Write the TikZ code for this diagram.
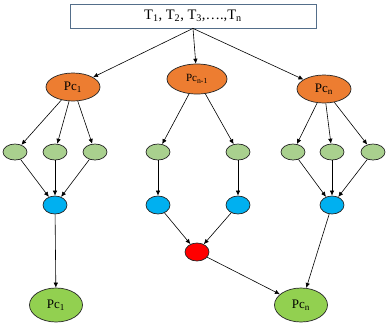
\documentclass[tikz,border=0pt]{standalone}
\usepackage{fontspec}
\setmainfont{Liberation Serif}
\usetikzlibrary{arrows.meta,shapes.geometric}

\definecolor{pcorange}{RGB}{237,125,49}
\definecolor{leafgreen}{RGB}{169,208,142}
\definecolor{joinblue}{RGB}{0,176,240}
\definecolor{mergered}{RGB}{255,0,0}
\definecolor{resgreen}{RGB}{146,208,80}
\definecolor{boxline}{RGB}{84,110,138}

\tikzset{
  blob/.style={ellipse,draw=black!85,line width=0.7pt,inner sep=0pt},
  pcnode/.style={blob,fill=pcorange,minimum width=54pt,minimum height=28pt,font=\fontsize{13}{14}\selectfont},
  leaf/.style={blob,fill=leafgreen,minimum width=24pt,minimum height=16pt},
  joinnode/.style={blob,fill=joinblue,minimum width=24pt,minimum height=18pt},
  res/.style={blob,fill=resgreen,minimum width=53pt,minimum height=34pt,font=\fontsize{13}{14}\selectfont},
  arr/.style={-{Latex[length=5pt,width=4.5pt]},line width=0.6pt}
}

\begin{document}
\begin{tikzpicture}[x=1pt,y=-1pt]
  \useasboundingbox (0,0) rectangle (389,333);
  \node[draw=boxline,line width=0.8pt,minimum width=246pt,minimum height=24pt,inner sep=0pt,
        font=\fontsize{14.5}{16}\selectfont] (tasks) at (193,16)
        {T\textsubscript{1}, T\textsubscript{2}, T\textsubscript{3},….,T\textsubscript{n}};

  \node[pcnode] (pcone) at (73,87) {Pc\textsubscript{1}};
  \node[pcnode,minimum width=60pt,minimum height=30pt,font=\fontsize{11}{12}\selectfont] (pcmid) at (197,79) {Pc\textsubscript{n-1}};
  \node[pcnode] (pcn) at (324,89) {Pc\textsubscript{n}};

  % leaves
  \foreach \name/\x in {la/15,lb/55,lc/95,ma/158,mb/238,ra/293,rb/332,rc/373}
    \node[leaf] (\name) at (\x,152) {};

  \node[joinnode] (jl) at (55,205) {};
  \node[joinnode] (jma) at (158,205) {};
  \node[joinnode] (jmb) at (238,205) {};
  \node[joinnode] (jr) at (332,205) {};
  \node[blob,fill=mergered,minimum width=24pt,minimum height=18pt] (red) at (197,252) {};

  \node[res] (outone) at (56,305) {Pc\textsubscript{1}};
  \node[res] (outn) at (301,305) {Pc\textsubscript{n}};

  \draw[arr] (tasks.south) -- (pcone);
  \draw[arr] (tasks.south) -- (pcmid);
  \draw[arr] (tasks.south) -- (pcn);

  \foreach \t in {la,lb,lc} {
    \draw[arr] (pcone) -- (\t);
    \draw[arr] (\t) -- (jl);
  }
  \foreach \t in {ra,rb,rc} {
    \draw[arr] (pcn) -- (\t);
    \draw[arr] (\t) -- (jr);
  }
  \draw[arr] (pcmid) -- (ma);
  \draw[arr] (pcmid) -- (mb);
  \draw[arr] (ma) -- (jma);
  \draw[arr] (mb) -- (jmb);
  \draw[arr] (jma) -- (red);
  \draw[arr] (jmb) -- (red);

  \draw[arr] (jl) -- (outone);
  \draw[arr] (red) -- (outn);
  \draw[arr] (jr) -- (outn);
\end{tikzpicture}
\end{document}
